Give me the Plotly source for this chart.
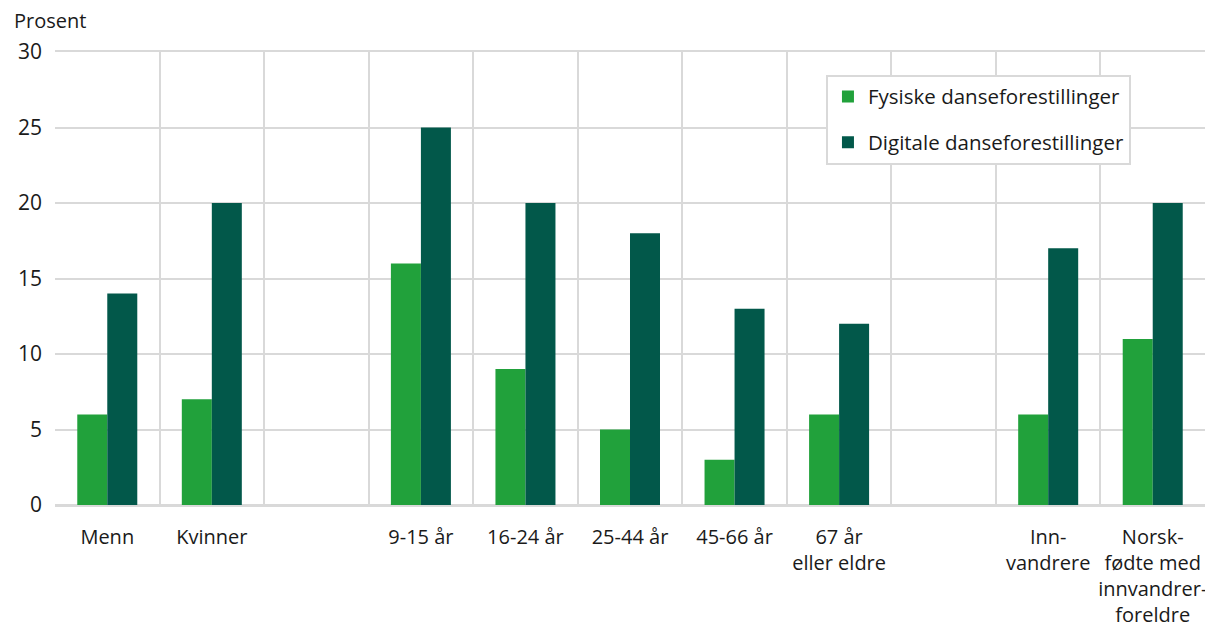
import plotly.graph_objects as go

categories = ["Menn", "Kvinner", " ", "9-15 år", "16-24 år", "25-44 år", "45-66 år",
              "67 år<br>eller eldre", "  ", "Inn-<br>vandrere",
              "Norsk-<br>fødte med<br>innvandrer-<br>foreldre"]
fysiske = [6, 7, None, 16, 9, 5, 3, 6, None, 6, 11]
digitale = [14, 20, None, 25, 20, 18, 13, 12, None, 17, 20]
y_ticks = [0, 5, 10, 15, 20, 25, 30]

GREEN = "#21a13b"
DARK = "#02584a"
GRID = "#d9d9d9"
FONT = "Open Sans"
FS = 21

# page body has an 8px default margin; compensate so the plot lands where the reference has it
fig = go.Figure()
fig.add_trace(go.Bar(x=categories, y=fysiske, name="Fysiske danseforestillinger",
                     marker=dict(color=GREEN, line=dict(width=0)), legendgroup="a"))
fig.add_trace(go.Bar(x=categories, y=digitale, name="Digitale danseforestillinger",
                     marker=dict(color=DARK, line=dict(width=0)), legendgroup="b"))

fig.update_layout(
    width=1205, height=623,
    margin=dict(l=47, r=8, t=44, b=126, autoexpand=False),
    paper_bgcolor="white", plot_bgcolor="white",
    font=dict(family=FONT, size=FS, color="#1a1a1a"),
    barmode="group", bargap=0.426, bargroupgap=0,
    showlegend=True,
    legend=dict(x=0.6704, y=0.95, xanchor="left", yanchor="top",
                bgcolor="white", bordercolor=GRID, borderwidth=2,
                font=dict(size=FS - 0.5), tracegroupgap=16,
                itemclick=False),
    xaxis=dict(type="category", tickson="boundaries", showgrid=True,
               gridcolor=GRID, gridwidth=2, ticks="", showline=True,
               linecolor=GRID, linewidth=2, mirror=True, automargin=False,
               tickangle=0, ticklabelstandoff=13, tickfont=dict(size=FS - 1)),
    yaxis=dict(range=[0, 30], tickvals=y_ticks, showgrid=True, gridcolor=GRID,
               gridwidth=2, zeroline=True, zerolinecolor=GRID, zerolinewidth=2,
               showline=False, ticks="", ticklabelstandoff=12, automargin=False,
               tickfont=dict(size=FS)),
    annotations=[dict(text="Prosent", xref="paper", yref="paper", x=-0.0375, y=1.0,
                      xanchor="left", yanchor="bottom", yshift=16, showarrow=False,
                      font=dict(size=FS - 1))],
)

fig.write_html("out.html")
